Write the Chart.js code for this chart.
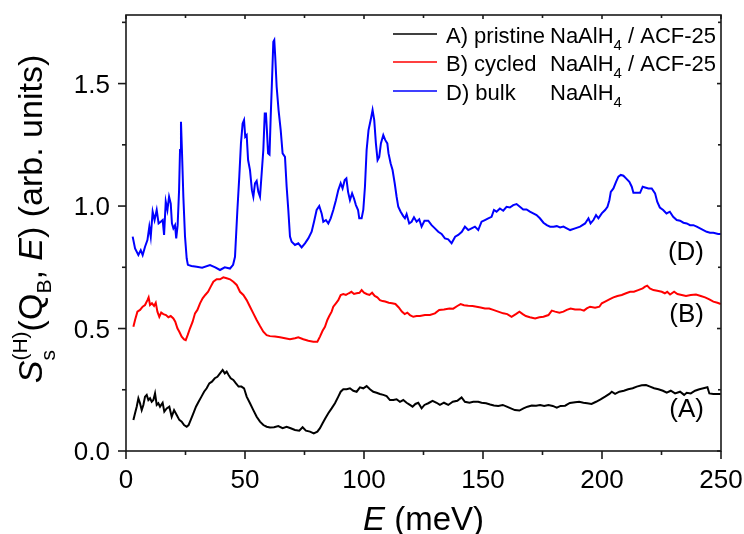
<!DOCTYPE html>
<html><head><meta charset="utf-8">
<script src="https://cdn.jsdelivr.net/npm/chart.js@4/dist/chart.umd.min.js"></script>
<style>html,body{margin:0;padding:0;background:#fff}#c{display:block}</style>
</head><body>
<canvas id="c" width="744" height="534"></canvas>
<script>
// ---- data (E in meV, S in arb. units) ----
const energyD=[2.8,3.8,5.2,6.2,7.0,8.0,9.0,9.8,10.4,11.2,12.0,12.9,13.7,14.6,15.4,16.0,16.7,17.4,18.1,18.8,19.3,19.9,20.6,21.1,21.7,22.3,22.7,23.1,23.5,24.1,24.8,25.5,26.0,27.5,29.7,32.0,35.3,37.5,39.5,41.5,43.7,45.0,45.8,46.8,47.6,48.3,49.0,49.6,50.1,50.7,51.3,52.1,52.9,53.5,54.2,54.9,55.6,56.3,57.0,57.7,58.3,58.8,59.2,59.7,60.3,60.8,61.3,61.9,62.3,62.7,63.3,64.1,65.0,65.8,66.8,67.5,68.2,68.9,69.6,71.0,72.4,73.8,75.2,76.6,78.0,79.0,80.1,81.2,82.2,82.9,84.0,85.0,86.0,87.1,88.2,89.2,90.2,91.0,91.9,92.6,93.3,94.1,95.0,95.8,96.6,97.5,98.0,99.0,99.7,100.4,101.1,101.9,102.8,103.6,104.3,105.0,105.7,106.4,107.1,108.1,108.9,109.8,110.3,111.2,112.0,112.9,113.7,114.4,115.4,116.5,117.2,117.9,119.0,120.0,121.0,122.1,123.2,124.2,125.4,127.0,128.4,129.8,131.2,132.6,134.0,135.4,136.8,138.3,139.6,141.1,142.4,143.8,145.2,146.6,148.0,149.4,150.8,152.2,153.6,154.6,155.7,157.1,158.5,159.9,161.3,162.7,164.1,165.5,166.9,168.3,169.7,171.1,172.5,173.9,175.4,176.8,178.2,179.6,181.0,182.4,183.8,185.2,186.6,188.7,190.8,192.9,194.3,195.2,196.4,197.5,198.5,199.9,201.3,202.3,203.1,203.7,204.8,205.9,206.9,207.9,209.0,210.1,211.5,212.5,213.2,214.6,216.0,217.1,218.1,219.5,220.9,222.3,223.2,224.3,225.7,227.1,228.5,229.9,231.4,232.8,234.2,235.6,237.0,238.4,239.8,241.2,242.6,244.0,245.4,246.8,248.8,249.9];
const intensityD=[0.875,0.827,0.80,0.82,0.80,0.834,0.861,0.916,0.875,0.977,0.943,0.984,0.929,0.936,0.943,0.882,1.018,0.984,1.038,1.01,0.929,0.909,0.922,0.868,0.922,1.065,1.229,1.344,1.229,1.038,0.875,0.786,0.76,0.755,0.752,0.748,0.759,0.75,0.739,0.75,0.745,0.76,0.793,0.984,1.12,1.256,1.337,1.351,1.283,1.29,1.188,1.147,1.065,1.038,1.093,1.103,1.058,1.038,1.133,1.229,1.378,1.378,1.31,1.215,1.21,1.365,1.50,1.671,1.678,1.61,1.487,1.392,1.31,1.215,1.201,1.079,0.984,0.875,0.854,0.841,0.848,0.831,0.848,0.868,0.895,0.936,0.984,1.0,0.97,0.936,0.943,0.929,0.95,0.984,1.024,1.065,1.093,1.072,1.106,1.113,1.058,1.024,1.052,1.031,1.004,0.984,0.95,0.95,0.984,1.079,1.229,1.31,1.351,1.392,1.351,1.256,1.188,1.201,1.256,1.29,1.27,1.256,1.215,1.174,1.147,1.093,1.038,0.997,0.977,0.959,0.95,0.967,0.929,0.936,0.954,0.936,0.946,0.916,0.94,0.94,0.922,0.909,0.895,0.886,0.868,0.864,0.848,0.875,0.882,0.895,0.916,0.902,0.909,0.916,0.902,0.936,0.943,0.95,0.956,0.984,0.977,0.99,0.981,0.997,0.994,1.004,1.008,0.997,0.986,0.986,0.977,0.97,0.963,0.95,0.932,0.922,0.916,0.916,0.918,0.913,0.916,0.909,0.902,0.909,0.916,0.929,0.95,0.929,0.943,0.963,0.95,0.97,0.984,0.997,1.024,1.058,1.072,1.099,1.12,1.127,1.124,1.113,1.099,1.079,1.054,1.054,1.054,1.079,1.076,1.072,1.072,1.052,1.018,0.994,0.984,0.97,0.977,0.956,0.943,0.94,0.932,0.929,0.922,0.922,0.916,0.909,0.902,0.895,0.891,0.891,0.886,0.886];

const energyB=[3.1,3.8,4.8,5.9,7.0,8.0,9.0,9.5,10.1,10.9,11.8,12.5,13.2,14.0,14.8,15.7,16.8,17.8,18.8,19.9,20.7,21.6,22.4,23.4,24.4,25.1,25.9,26.9,28.0,29.0,30.0,31.1,32.2,33.3,34.5,35.6,36.7,38.1,39.5,40.9,42.3,43.7,45.1,46.5,47.9,49.3,50.7,52.1,53.5,54.9,56.3,57.7,59.1,60.5,62.6,64.7,66.8,68.9,71.0,72.4,74.5,76.6,78.7,80.4,81.5,82.6,83.6,84.6,85.4,86.4,87.1,88.2,89.2,90.2,91.3,92.4,93.6,94.7,95.8,96.9,98.1,99.0,100.0,101.1,102.3,103.4,104.5,105.6,106.7,107.8,108.9,110.4,111.8,113.2,114.6,115.9,117.1,118.2,119.3,120.7,122.1,123.5,125.6,127.7,129.8,131.6,133.6,135.9,137.5,139.2,140.6,142.0,143.8,145.6,147.3,149.0,150.8,152.6,154.3,156.4,158.5,160.2,162.0,163.8,165.3,166.7,168.0,169.7,171.9,173.7,175.4,177.5,178.9,180.3,182.1,183.8,185.2,186.8,188.7,190.8,192.4,193.6,195.0,197.1,198.9,199.9,201.3,203.1,204.8,206.5,208.3,210.1,211.8,213.4,215.2,217.1,218.1,219.0,220.1,221.6,223.2,225.1,226.4,227.4,228.6,230.3,231.7,233.5,235.3,237.3,239.5,241.5,243.3,245.1,246.8,248.5,249.9];
const intensityB=[0.507,0.535,0.569,0.576,0.589,0.596,0.616,0.627,0.596,0.603,0.592,0.605,0.569,0.548,0.565,0.559,0.555,0.546,0.551,0.541,0.528,0.501,0.487,0.467,0.456,0.453,0.473,0.501,0.528,0.562,0.576,0.603,0.623,0.637,0.65,0.671,0.691,0.701,0.701,0.709,0.705,0.701,0.691,0.678,0.65,0.637,0.616,0.589,0.562,0.535,0.51,0.487,0.473,0.469,0.467,0.464,0.46,0.456,0.46,0.464,0.456,0.45,0.446,0.446,0.467,0.491,0.507,0.535,0.551,0.569,0.589,0.603,0.616,0.637,0.641,0.637,0.644,0.65,0.641,0.644,0.646,0.657,0.646,0.641,0.637,0.646,0.633,0.627,0.616,0.612,0.61,0.605,0.603,0.6,0.586,0.569,0.559,0.565,0.555,0.548,0.551,0.551,0.555,0.555,0.562,0.576,0.578,0.582,0.581,0.592,0.6,0.595,0.593,0.592,0.589,0.586,0.582,0.582,0.576,0.569,0.562,0.559,0.548,0.559,0.569,0.559,0.551,0.546,0.541,0.546,0.548,0.555,0.573,0.569,0.565,0.569,0.576,0.582,0.578,0.578,0.573,0.582,0.589,0.585,0.589,0.603,0.61,0.619,0.627,0.633,0.637,0.644,0.65,0.65,0.657,0.664,0.671,0.675,0.664,0.657,0.654,0.65,0.644,0.65,0.639,0.65,0.641,0.637,0.633,0.637,0.639,0.633,0.627,0.619,0.61,0.605,0.6];

const energyA=[3.1,3.8,4.5,5.2,5.9,6.6,7.3,8.0,8.7,9.4,10.1,10.8,11.5,12.2,12.9,13.6,14.3,15.4,16.1,17.1,18.2,19.2,20.2,21.3,22.4,23.4,24.4,25.5,26.3,27.2,28.3,29.4,30.5,31.7,32.8,33.9,35.0,36.1,37.3,38.4,39.5,40.6,41.5,42.3,43.1,44.0,45.1,46.2,47.3,48.5,49.6,50.7,52.1,53.5,54.9,56.3,57.7,59.1,60.5,62.2,64.0,65.8,67.5,69.2,71.0,72.8,74.2,75.6,77.3,78.9,80.4,81.5,82.6,83.7,85.0,86.4,87.8,89.2,90.2,91.3,92.7,94.1,95.5,96.9,98.3,99.7,101.1,102.5,103.9,105.3,106.7,108.1,109.5,110.9,112.3,113.7,115.1,116.5,117.9,119.3,120.4,121.6,122.8,124.2,125.4,127.0,128.8,130.5,131.9,133.6,135.4,137.3,139.2,141.0,142.4,144.3,145.9,148.0,149.4,151.3,153.0,154.6,156.4,158.3,160.0,161.7,163.4,165.3,167.0,168.7,170.5,172.3,174.0,175.7,177.5,179.3,181.0,182.6,184.5,186.5,188.7,190.4,192.2,193.8,195.6,197.5,199.4,201.3,203.1,204.1,205.5,207.3,209.2,211.0,212.9,214.6,216.7,218.5,220.2,221.9,223.7,225.6,227.2,228.9,230.7,232.8,234.5,235.6,237.3,239.1,240.9,242.6,244.3,245.1,246.8,248.8,249.9];
const intensityA=[0.127,0.154,0.181,0.215,0.195,0.167,0.188,0.222,0.229,0.208,0.215,0.201,0.208,0.235,0.188,0.195,0.181,0.197,0.161,0.174,0.181,0.14,0.167,0.147,0.127,0.12,0.106,0.099,0.106,0.127,0.154,0.181,0.201,0.222,0.242,0.256,0.276,0.283,0.297,0.303,0.317,0.331,0.317,0.324,0.31,0.297,0.29,0.276,0.263,0.263,0.256,0.222,0.195,0.167,0.14,0.12,0.106,0.099,0.096,0.097,0.102,0.093,0.099,0.093,0.086,0.083,0.097,0.083,0.079,0.072,0.079,0.093,0.113,0.133,0.154,0.174,0.195,0.222,0.242,0.252,0.252,0.256,0.246,0.242,0.26,0.256,0.265,0.252,0.242,0.238,0.233,0.229,0.224,0.208,0.208,0.211,0.201,0.208,0.197,0.188,0.181,0.192,0.197,0.174,0.188,0.195,0.205,0.197,0.188,0.197,0.188,0.201,0.205,0.219,0.201,0.197,0.201,0.201,0.197,0.195,0.19,0.186,0.184,0.188,0.181,0.174,0.167,0.165,0.174,0.181,0.186,0.185,0.188,0.184,0.188,0.184,0.177,0.184,0.185,0.196,0.199,0.201,0.197,0.195,0.192,0.201,0.211,0.222,0.233,0.242,0.233,0.242,0.246,0.252,0.256,0.263,0.268,0.269,0.263,0.256,0.252,0.246,0.238,0.246,0.235,0.242,0.229,0.238,0.235,0.246,0.252,0.256,0.26,0.235,0.233,0.233,0.233];

const xMajorTicks=[0,50,100,150,200,250];
const xMinorTicks=[25,75,125,175,225];
const yMajorTicks=[0,0.5,1.0,1.5];
const yMinorTicks=[0.25,0.75,1.25,1.75];
const seriesLabels=['A) pristine','B) cycled','D) bulk'];
const seriesSuffix=[' / ACF-25',' / ACF-25',''];
const curveTags=['(A)','(B)','(D)'];
const curveTagValues=[0.17,0.555,0.81];

// ---- styles ----
const FONT='"Liberation Sans", Arial, sans-serif';
const colors=['#000000','#ff0000','#0000ff'];

function pts(xs,ys){return xs.map((x,i)=>({x:x,y:ys[i]}));}

const decor={
  id:'decor',
  afterDraw(chart){
    const ctx=chart.ctx, a=chart.chartArea, xs=chart.scales.x, ys=chart.scales.y;
    ctx.save();
    ctx.strokeStyle='#1a1a1a'; ctx.lineWidth=1.6; ctx.lineCap='square';
    ctx.strokeRect(a.left,a.top,a.right-a.left,a.bottom-a.top);
    ctx.lineCap='butt';
    function tick(x1,y1,x2,y2){ctx.beginPath();ctx.moveTo(x1,y1);ctx.lineTo(x2,y2);ctx.stroke();}
    xMajorTicks.forEach(v=>{const p=xs.getPixelForValue(v);tick(p,a.bottom,p,a.bottom+8);tick(p,a.top,p,a.top+4);});
    xMinorTicks.forEach(v=>{const p=xs.getPixelForValue(v);tick(p,a.bottom,p,a.bottom+4);tick(p,a.top,p,a.top+3);});
    yMajorTicks.forEach(v=>{const p=ys.getPixelForValue(v);tick(a.left-8,p,a.left,p);tick(a.right-4,p,a.right,p);});
    yMinorTicks.forEach(v=>{const p=ys.getPixelForValue(v);tick(a.left-4,p,a.left,p);tick(a.right-3,p,a.right,p);});

    // tick labels
    ctx.fillStyle='#000';
    ctx.font='26px '+FONT; ctx.textBaseline='alphabetic';
    ctx.textAlign='center';
    xMajorTicks.forEach(v=>{ctx.fillText(String(v),xs.getPixelForValue(v),488);});
    ctx.textAlign='right';
    yMajorTicks.forEach(v=>{ctx.fillText(v.toFixed(1),110,ys.getPixelForValue(v)+9.3);});

    // legend
    const rowY=[34,62,91];
    for(let i=0;i<3;i++){
      const y=rowY[i];
      ctx.strokeStyle=colors[i]; ctx.lineWidth=1.3;
      tick(393,y,437,y);
      ctx.font='22px '+FONT; ctx.textAlign='left';
      ctx.fillText(seriesLabels[i],446,y+9);
      let x=550;
      ctx.fillText('NaAlH',x,y+9); x+=ctx.measureText('NaAlH').width;
      ctx.font='15px '+FONT; ctx.fillText('4',x,y+16); x+=ctx.measureText('4').width;
      ctx.font='22px '+FONT; ctx.fillText(seriesSuffix[i],x,y+9);
    }

    // curve tags
    ctx.font='26px '+FONT; ctx.textAlign='right'; ctx.textBaseline='middle';
    curveTags.forEach((t,i)=>{ctx.fillText(t,704,ys.getPixelForValue(curveTagValues[i]));});

    // x title
    ctx.textBaseline='alphabetic'; ctx.textAlign='left';
    const big=33;
    const xParts=[['E','italic '+big+'px '+FONT],[' (meV)',big+'px '+FONT]];
    let w=0; xParts.forEach(p=>{ctx.font=p[1];w+=ctx.measureText(p[0]).width;});
    let cx=(a.left+a.right)/2-w/2;
    xParts.forEach(p=>{ctx.font=p[1];ctx.fillText(p[0],cx,530);cx+=ctx.measureText(p[0]).width;});

    // y title (rotated)
    const fs=34, sm=21;
    const parts=[
      {t:'S',f:'italic '+fs+'px '+FONT,dy:0},
      {stack:true},
      {t:'(Q',f:fs+'px '+FONT,dy:0},
      {t:'B',f:sm+'px '+FONT,dy:9},
      {t:', ',f:fs+'px '+FONT,dy:0},
      {t:'E',f:'italic '+fs+'px '+FONT,dy:0},
      {t:') (arb. units)',f:fs+'px '+FONT,dy:0}
    ];
    function width(p){
      if(p.stack){ctx.font=sm+'px '+FONT;return Math.max(ctx.measureText('(H)').width,ctx.measureText('s').width);}
      ctx.font=p.f;return ctx.measureText(p.t).width;
    }
    let total=0; parts.forEach(p=>total+=width(p));
    ctx.translate(42,(a.top+a.bottom)/2-14);
    ctx.rotate(-Math.PI/2);
    let px=-total/2;
    parts.forEach(p=>{
      const wd=width(p);
      if(p.stack){
        ctx.font=sm+'px '+FONT;
        ctx.fillText('(H)',px,-15);
        ctx.fillText('s',px,13);
      } else {
        ctx.font=p.f; ctx.fillText(p.t,px,p.dy);
      }
      px+=wd;
    });
    ctx.restore();
  }
};

new Chart(document.getElementById('c'),{
  type:'scatter',
  data:{datasets:[
    {label:'A',data:pts(energyA,intensityA),borderColor:colors[0]},
    {label:'B',data:pts(energyB,intensityB),borderColor:colors[1]},
    {label:'D',data:pts(energyD,intensityD),borderColor:colors[2]}
  ].map(d=>Object.assign(d,{showLine:true,pointRadius:0,borderWidth:2,tension:0,fill:false}))},
  options:{
    responsive:false,animation:false,
    layout:{padding:{top:15,right:23,left:0,bottom:0}},
    plugins:{legend:{display:false},tooltip:{enabled:false}},
    scales:{
      x:{type:'linear',min:0,max:250,
        afterFit(s){s.height=83;},
        grid:{display:false,drawTicks:false},border:{display:false},
        ticks:{display:false}},
      y:{type:'linear',min:0,max:1.78,
        afterFit(s){s.width=126;},
        grid:{display:false,drawTicks:false},border:{display:false},
        ticks:{display:false}}
    }
  },
  plugins:[decor]
});
</script>
</body></html>
